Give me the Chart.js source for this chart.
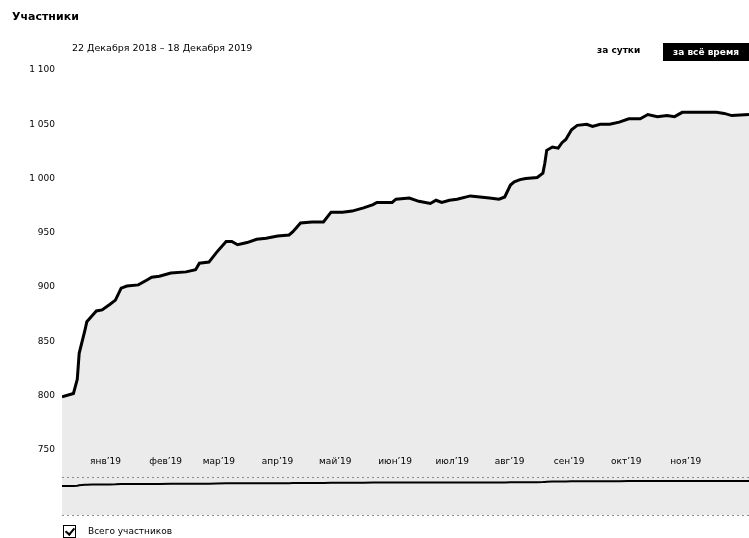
<!DOCTYPE html>
<html lang="ru">
<head>
<meta charset="utf-8">
<title>Участники</title>
<script src="https://cdn.jsdelivr.net/npm/chart.js@4.4.0/dist/chart.umd.min.js"></script>
<style>
  html, body { margin: 0; padding: 0; background: #fff; }
  body { width: 749px; height: 538px; position: relative; overflow: hidden; font-family: 'DejaVu Sans', sans-serif; color: #000; }
  #chartBox { position: absolute; left: 0; top: 0; width: 749px; height: 538px; }
  .title { position: absolute; left: 12px; top: 10px; font-size: 11px; font-weight: bold; }
  .range { position: absolute; left: 72px; top: 42px; font-size: 9.5px; }
  .day { position: absolute; left: 597px; top: 45px; font-size: 9px; font-weight: bold; }
  .all { position: absolute; left: 663px; top: 43px; width: 86px; height: 18px; line-height: 18px; background: #000; color: #fff; font-size: 9px; font-weight: bold; text-align: center; }
  .legend { position: absolute; left: 63px; top: 525px; font-size: 9px; height: 13px; line-height: 13px; }
  .legend .box { position: absolute; left: 0; top: 0; width: 11px; height: 11px; border: 1px solid #000; }
  .legend .box::after { content: ''; position: absolute; left: 3px; top: 0; width: 4px; height: 7px; border: solid #000; border-width: 0 2px 2px 0; transform: rotate(40deg); }
  .legend span { position: absolute; left: 25px; top: 0; white-space: nowrap; }
</style>
</head>
<body>
<div id="chartBox"><canvas id="membersChart"></canvas></div>
<div class="title">Участники</div>
<div class="range">22 Декабря 2018 – 18 Декабря 2019</div>
<div class="day">за сутки</div>
<div class="all">за всё время</div>
<div class="legend"><div class="box"></div><span>Всего участников</span></div>
<script>
// день от 22.12.2018 и число участников
const days = [0, 6, 8, 9, 12, 13, 16, 18, 21, 25, 28, 31, 34, 40, 45, 47, 51, 57, 65, 70,
  72, 77, 81, 86, 89, 92, 97, 102, 107, 113, 119, 121, 125, 131, 137, 141, 147, 152, 158, 163,
  165, 173, 175, 182, 187, 193, 196, 199, 203, 207, 214, 219, 224, 229, 232, 235, 237, 240, 243, 249,
  252, 253, 254, 257, 260, 262, 264, 267, 270, 275, 278, 282, 287, 292, 297, 303, 307, 312, 317, 321,
  325, 330, 338, 343, 347, 351, 360];
const members = [799, 802, 815, 839, 860, 868, 874, 878, 879, 884, 888, 899, 901, 902, 907, 909, 910, 913, 914, 916,
  922, 923, 932, 942, 942, 939, 941, 944, 945, 947, 948, 951, 959, 960, 960, 969, 969, 970, 973, 976,
  978, 978, 981, 982, 979, 977, 980, 978, 980, 981, 984, 983, 982, 981, 983, 994, 997, 999, 1000, 1001,
  1005, 1014, 1026, 1029, 1028, 1033, 1036, 1045, 1049, 1050, 1048, 1050, 1050, 1052, 1055, 1055, 1059, 1057, 1058, 1057,
  1061, 1061, 1061, 1061, 1060, 1058, 1059];

// подписи оси X (первое число месяца)
const monthStarts = [10, 41, 69, 100, 130, 161, 191, 222, 253, 283, 314];
const monthLabels = ['янв’19', 'фев’19', 'мар’19', 'апр’19', 'май’19', 'июн’19', 'июл’19', 'авг’19', 'сен’19', 'окт’19', 'ноя’19'];
const yTicks = [750, 800, 850, 900, 950, 1000, 1050, 1100];

// мини-график внизу (навигатор)
const navRange = [-708, 22432];
const navBorders = [1268, -708];

Chart.defaults.font.family = "'DejaVu Sans', sans-serif";
Chart.defaults.color = '#000';

const points = days.map((d, i) => ({ x: d, y: members[i] }));

const fmt = v => String(v).replace(/\B(?=(\d{3})+(?!\d))/g, ' ');

new Chart(document.getElementById('membersChart').getContext('2d'), {
  type: 'line',
  data: {
    datasets: [{
      label: 'навигатор',
      data: points,
      yAxisID: 'nav',
      borderColor: '#000',
      borderWidth: 2,
      pointRadius: 0,
      fill: false,
      tension: 0,
      order: 0
    }, {
      label: 'Всего участников',
      data: points,
      yAxisID: 'y',
      borderColor: '#000',
      borderWidth: 3,
      backgroundColor: '#ebebeb',
      pointRadius: 0,
      fill: 'start',
      tension: 0,
      order: 1
    }]
  },
  options: {
    responsive: true,
    maintainAspectRatio: false,
    animation: false,
    layout: { padding: { top: 70, bottom: 23, left: 0, right: 0 } },
    plugins: { legend: { display: false }, tooltip: { enabled: false } },
    scales: {
      x: {
        type: 'linear',
        min: 0,
        max: 360,
        position: { y: 750 },
        grid: { display: false, drawTicks: false },
        border: { display: false },
        afterBuildTicks: s => { s.ticks = monthStarts.map(v => ({ value: v })); },
        ticks: {
          z: 1,
          autoSkip: false,
          maxRotation: 0,
          align: 'start',
          labelOffset: 9,
          padding: 6,
          font: { size: 9 },
          callback: (v, i) => monthLabels[i]
        }
      },
      y: {
        min: 690,
        max: 1100,
        grid: { display: false, drawTicks: false },
        border: { display: false },
        afterBuildTicks: s => { s.ticks = yTicks.map(v => ({ value: v })); },
        afterFit: s => { s.width = 62; },
        ticks: { padding: 7, font: { size: 9 }, callback: v => fmt(v) }
      },
      nav: {
        position: 'right',
        min: navRange[0],
        max: navRange[1],
        grid: { z: 1, color: '#8a8a8a', lineWidth: 1, drawTicks: false },
        border: { display: false, dash: [2, 3] },
        afterBuildTicks: s => { s.ticks = navBorders.map(v => ({ value: v })); },
        afterFit: s => { s.width = 0; },
        ticks: { display: false }
      }
    }
  }
});
</script>
</body>
</html>
